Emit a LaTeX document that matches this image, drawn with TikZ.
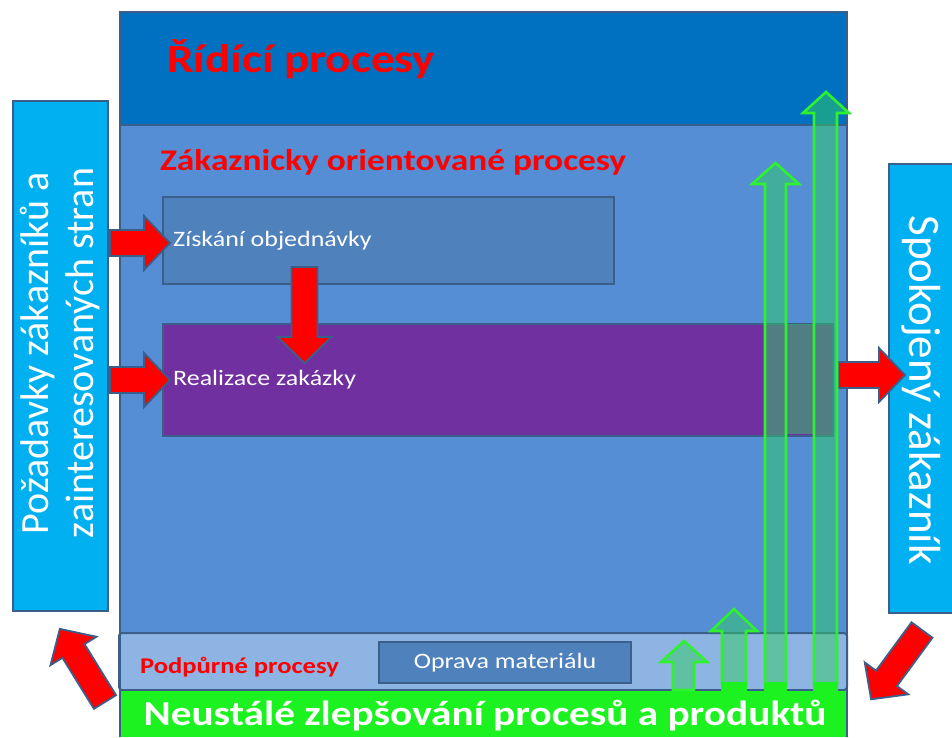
\documentclass[tikz,border=0pt]{standalone}
\usepackage{fontspec}
\setmainfont{Carlito}
\newfontfamily\widefont[FakeStretch=1.18]{Carlito}
\definecolor{topblue}{HTML}{0070C0}
\definecolor{midblue}{HTML}{558ED5}
\definecolor{lightband}{HTML}{8EB4E3}
\definecolor{frameclr}{HTML}{3B5F8A}
\definecolor{procblue}{HTML}{4F81BD}
\definecolor{procpurple}{HTML}{7030A0}
\definecolor{sidecyan}{HTML}{00B0F0}
\definecolor{greenbar}{HTML}{1BF21F}
\definecolor{greenline}{HTML}{2EF22E}
\definecolor{greenfill}{HTML}{33CC66}
\tikzset{
  frame/.style={draw=frameclr, line width=2pt},
  procbox/.style={draw=frameclr, line width=2pt, inner sep=0pt},
  sidebox/.style={fill=sidecyan, draw=frameclr, line width=2pt, inner sep=0pt},
  redtitle/.style={text=red, inner sep=0pt},
  whitetext/.style={text=white, inner sep=0pt},
  redarrow/.style={fill=red, draw=frameclr, line width=1.8pt, line join=miter},
  greenarrow/.style={draw=greenline, line width=2.6pt, fill=greenfill, fill opacity=0.5},
  pics/blockarrow/.style={code={
    \path[redarrow] (0,-13) -- ({#1-26},-13) -- ({#1-26},-27) -- (#1,0)
      -- ({#1-26},27) -- ({#1-26},13) -- (0,13) -- cycle;}}
}
\begin{document}
\begin{tikzpicture}[x=1pt,y=-1pt]
\useasboundingbox (0,0) rectangle (952,737);

% main process frame: control band, customer band, support band, improvement bar
\fill[midblue] (120,12) rectangle (847,737);
\fill[topblue] (120,12) rectangle (847,125);
\draw[frame] (120,125) -- (847,125);
\path[fill=lightband, draw=frameclr, line width=2pt, rounded corners=3pt] (119,633) rectangle (847,690);
\fill[greenbar] (121,691) rectangle (846,737);
\draw[frame] (120,737) -- (120,12) -- (847,12) -- (847,737);

% band titles
\node[redtitle, anchor=west, font=\widefont\bfseries\fontsize{40}{44}\selectfont] (ctrl) at (167,59) {Řídící procesy};
\node[redtitle, anchor=west, font=\widefont\bfseries\fontsize{30}{34}\selectfont] (cust) at (160,162) {Zákaznicky orientované procesy};
\node[redtitle, anchor=west, font=\widefont\bfseries\fontsize{22.5}{26}\selectfont] (supp) at (140,667) {Podpůrné procesy};
\node[whitetext, font=\widefont\bfseries\fontsize{35}{40}\selectfont] (impr) at (485,716) {Neustálé zlepšování procesů a produktů};

% process boxes
\node[procbox, fill=procblue, minimum width=451, minimum height=87, anchor=north west] (order) at (162,196) {};
\node[whitetext, anchor=west, font=\widefont\fontsize{22}{26}\selectfont] (orderlbl) at (173,241) {Získání objednávky};
\node[procbox, fill=procpurple, minimum width=670, minimum height=112, anchor=north west] (real) at (162,323) {};
\node[whitetext, anchor=west, font=\widefont\fontsize{22}{26}\selectfont] (reallbl) at (173,380) {Realizace zakázky};
\node[procbox, fill=procblue, minimum width=252, minimum height=41, anchor=north west,
      text=white, font=\widefont\fontsize{22}{26}\selectfont] (repair) at (378,641) {Oprava materiálu};

% side boxes
\node[sidebox, minimum width=95, minimum height=510, anchor=north west] (req) at (12,100) {};
\node[whitetext, rotate=90, align=center, font=\fontsize{40}{45}\selectfont] (reqlbl) at ([yshift=3]req.center)
  {Požadavky zákazníků a\\zainteresovaných stran};
\node[sidebox, minimum width=80, minimum height=449, anchor=north west] (sat) at (888,163) {};
\node[whitetext, rotate=-90, font=\fontsize{45}{50}\selectfont] (satlbl) at (921,390) {Spokojený zákazník};

% red flow arrows
\coordinate (in1) at (110,243);
\coordinate (in2) at (110,380);
\coordinate (down) at (304.5,267);
\coordinate (out) at (838,375);
\coordinate (fbl) at (105,702);
\coordinate (fbr) at (922,630);
\pic at (in1) {blockarrow=60};
\pic at (in2) {blockarrow=60};
\pic[rotate=270] at (down) {blockarrow=96};
\pic at (out) {blockarrow=67};
\pic[rotate=121.7] at (fbl) {blockarrow=86};
\pic[rotate=233.7] at (fbr) {blockarrow=86};

% improvement arrows rising from the green bar
\fill[greenfill, opacity=0.5] (786,324) rectangle (814,434);
\path[greenarrow] (673,690) -- (673,662) -- (661,662) -- (684,641) -- (707,662) -- (694,662) -- (694,690) -- cycle;
\path[greenarrow] (722,684) -- (722,631) -- (711,631) -- (734,609) -- (757,631) -- (746,631) -- (746,684) -- cycle;
\path[greenarrow] (765,684) -- (765,184) -- (752,184) -- (775.5,163) -- (799,184) -- (786,184) -- (786,684) -- cycle;
\path[greenarrow] (814,684) -- (814,113) -- (803,113) -- (826,92) -- (849,113) -- (837,113) -- (837,684) -- cycle;
\fill[greenbar] (721,682) rectangle (747,691);
\fill[greenbar] (764,682) rectangle (787,691);
\fill[greenbar] (813,682) rectangle (838,691);
\end{tikzpicture}
\end{document}
